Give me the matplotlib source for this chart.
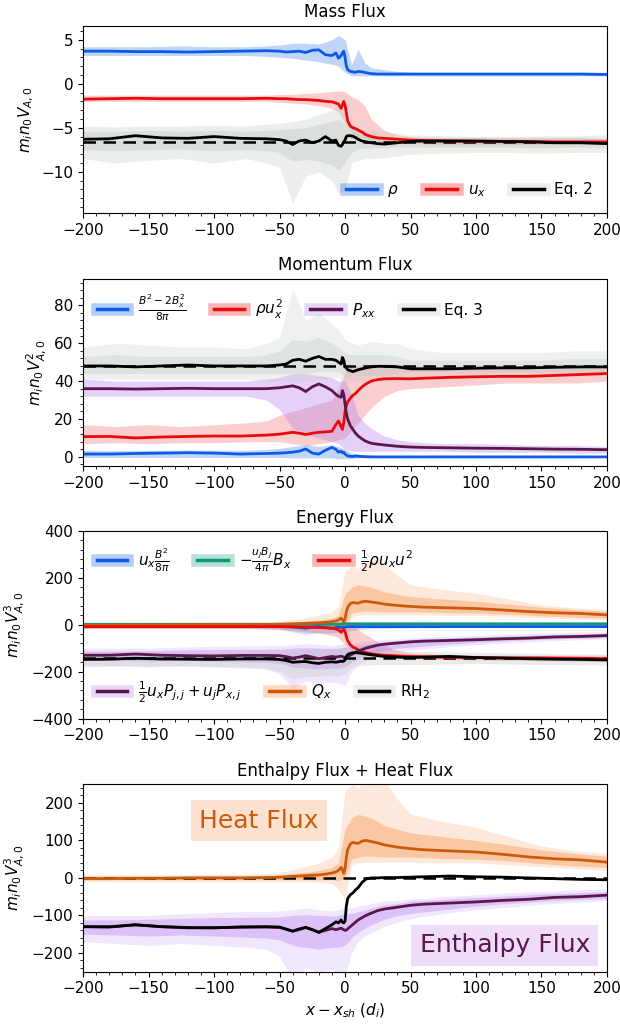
import matplotlib
matplotlib.use("Agg")
import matplotlib.pyplot as plt
from matplotlib.lines import Line2D
from matplotlib.legend_handler import HandlerTuple
from matplotlib.ticker import MultipleLocator

# ---- Datos ------------------------------------------------------------------
# grilla de las curvas medias
X = [-200, -180, -160, -140, -120, -100, -80, -60, -50, -45, -40, -35, -30, -25,
     -20, -15, -10, -7, -5, -3, -2, -1, 0, 1, 2, 4, 6, 8, 10, 13, 16, 20, 25,
     30, 40, 50, 60, 80, 100, 120, 140, 160, 180, 200]
# grilla de las bandas (envolvente del ensamble)
XB = [-200, -175, -150, -125, -100, -75, -60, -50, -40, -30, -20, -10, -5, 0,
      5, 10, 15, 20, 30, 40, 50, 75, 100, 125, 150, 175, 200]

# Mass flux
RHO = [3.7, 3.7, 3.65, 3.65, 3.6, 3.65, 3.7, 3.75, 3.7, 3.6, 3.65, 3.7, 3.55, 3.8,
       3.85, 3.3, 3.2, 3.5, 2.9, 3.2, 3.5, 3.7, 3.0, 2.0, 1.6, 1.4, 1.35, 1.3, 1.4,
       1.35, 1.25, 1.15, 1.1, 1.1, 1.1, 1.1, 1.1, 1.1, 1.1, 1.1, 1.1, 1.1, 1.1, 1.05]
UX = [-1.75, -1.7, -1.65, -1.7, -1.7, -1.7, -1.7, -1.65, -1.7, -1.7, -1.75, -1.8,
      -1.8, -1.85, -1.9, -2.0, -2.05, -2.2, -2.3, -2.8, -2.4, -2.0, -2.4, -3.3,
      -4.2, -4.8, -5.0, -5.1, -5.25, -5.5, -5.8, -6.0, -6.15, -6.2, -6.3, -6.4,
      -6.45, -6.5, -6.55, -6.55, -6.55, -6.6, -6.6, -6.6]
EQ2 = [-6.3, -6.25, -5.9, -6.15, -6.2, -6.0, -6.2, -6.25, -6.35, -6.5, -6.9, -6.5,
       -6.4, -6.7, -6.5, -6.0, -6.5, -6.4, -7.0, -7.1, -6.9, -6.6, -6.4, -6.0, -5.9,
       -5.9, -5.95, -6.1, -6.3, -6.5, -6.6, -6.7, -6.8, -6.85, -6.7, -6.55, -6.5,
       -6.5, -6.5, -6.55, -6.6, -6.7, -6.7, -6.8]
RHO_LO = [3.2, 3.2, 3.2, 3.2, 3.2, 3.2, 3.1, 3.0, 2.9, 2.7, 2.5, 2.2, 2.0, 1.3,
          0.9, 0.9, 0.9, 0.9, 0.9, 0.9, 0.9, 0.9, 0.9, 0.9, 0.9, 0.9, 0.9]
RHO_HI = [4.2, 4.2, 4.2, 4.3, 4.2, 4.2, 4.3, 4.4, 4.6, 4.6, 4.5, 5.0, 5.5, 5.0,
          2.2, 3.9, 2.4, 1.8, 1.6, 1.4, 1.3, 1.3, 1.3, 1.3, 1.3, 1.3, 1.3]
UX_LO = [-2.0, -2.0, -2.0, -2.0, -2.0, -2.0, -2.0, -2.1, -2.2, -2.3, -2.5, -2.8,
         -3.2, -4.5, -5.5, -6.0, -6.2, -6.4, -6.6, -6.7, -6.8, -6.9, -6.9, -6.9,
         -6.9, -6.9, -6.9]
UX_HI = [-1.3, -1.3, -1.3, -1.3, -1.3, -1.3, -1.3, -1.2, -1.2, -1.1, -1.0, -0.9,
         -0.8, -0.9, -1.5, -1.8, -2.5, -4.0, -5.3, -5.8, -6.0, -6.1, -6.1, -6.1,
         -6.1, -6.1, -6.2]
EQ2_LO = [-8.5, -9.0, -8.7, -8.5, -9.0, -8.5, -9.0, -9.5, -13.5, -10.5, -10.0,
          -11.0, -12.5, -12.0, -9.0, -8.7, -8.5, -8.5, -8.4, -8.2, -8.0, -7.9,
          -7.8, -7.8, -7.9, -7.8, -7.8]
EQ2_HI = [-4.8, -4.9, -4.8, -4.8, -4.7, -4.8, -4.6, -4.5, -4.3, -4.0, -3.5, -3.0,
          -2.2, -3.5, -4.5, -5.0, -5.2, -5.3, -5.5, -5.6, -5.8, -5.9, -6.0, -6.0,
          -5.9, -5.9, -5.8]
EQ2_CORE_LO = [-7.5, -7.6, -7.5, -7.4, -7.6, -7.5, -7.6, -7.8, -8.8, -8.6, -8.8,
               -9.2, -9.8, -9.0, -7.8, -7.4, -7.3, -7.3, -7.3, -7.2, -7.2, -7.2,
               -7.2, -7.2, -7.3, -7.2, -7.3]
EQ2_CORE_HI = [-5.4, -5.4, -5.3, -5.4, -5.3, -5.4, -5.3, -5.2, -5.1, -5.0, -4.6,
               -4.3, -4.0, -4.6, -5.3, -5.6, -5.8, -5.9, -6.0, -6.1, -6.1, -6.2,
               -6.2, -6.2, -6.2, -6.2, -6.2]
RH1_MASS = -6.6

# Momentum flux
BMAG = [1.5, 1.5, 1.8, 2.0, 2.2, 2.0, 1.5, 1.8, 2.0, 2.2, 2.5, 3.0, 4.2, 2.0, 1.5,
        3.5, 5.0, 4.0, 2.5, 3.0, 2.2, 2.5, 1.5, 1.0, 0.5, 0.3, 0.2, 0.5, 0.3, 0.2,
        0.1, 0.0, 0.0, 0.0, 0.0, 0.0, 0.0, 0.0, 0.0, 0.0, 0.0, 0.0, 0.0, 0.0]
RUX2 = [10.7, 10.8, 10.0, 10.5, 10.8, 11.0, 11.0, 11.5, 12.0, 12.5, 13.0, 12.5,
        11.8, 12.5, 13.0, 13.2, 13.5, 17.0, 19.0, 16.0, 14.5, 18.0, 24.0, 27.0,
        29.0, 31.0, 32.5, 33.5, 35.0, 37.0, 38.5, 40.0, 40.8, 41.2, 41.3, 41.2,
        41.5, 42.0, 42.3, 42.5, 42.5, 43.0, 43.5, 44.0]
PXX = [36, 36, 35.8, 36, 36.2, 36, 36, 36, 36.5, 37, 37.5, 36.5, 34.5, 37, 38.5,
       37, 35, 33, 32, 31.5, 35, 33, 28, 23, 20, 16.5, 14.5, 12.5, 11, 9.5, 8.2,
       7.2, 6.7, 6.3, 5.6, 5.2, 5.0, 4.8, 4.6, 4.5, 4.3, 4.1, 4.0, 3.8]
EQ3 = [48, 48, 47.5, 48, 48.5, 48, 48, 48, 48.5, 49, 51, 51.5, 50.5, 52, 53, 51.5,
       51.5, 51, 50, 49, 52.5, 51, 47.5, 47, 46, 45.5, 45, 45.5, 46, 46.5, 47,
       47.5, 47.8, 47.8, 47.5, 46.5, 46.5, 46.5, 46.8, 47, 47, 47.3, 47.5, 47.5]
BMAG_LO = [-0.3, -0.3, -0.3, -0.3, -0.3, -0.3, -0.3, -0.3, -0.5, -0.5, -0.5, -0.5,
           -1.0, -1.0, -0.8, -0.5, -0.4, -0.3, -0.3, -0.3, -0.3, -0.3, -0.3, -0.3,
           -0.3, -0.3, -0.3]
BMAG_HI = [3.5, 3.3, 3.5, 3.6, 3.6, 3.5, 4.0, 4.5, 5.5, 6.5, 5.5, 6.5, 5.5, 4.0,
           2.0, 1.5, 1.0, 0.8, 0.5, 0.4, 0.3, 0.3, 0.3, 0.3, 0.3, 0.3, 0.3]
RUX2_LO = [7, 7.5, 7, 7.5, 7.5, 8, 8, 8, 7, 6, 7, 8, 9, 10, 14, 18, 22, 26, 32,
           35, 36, 37, 38, 39, 39, 39, 40]
RUX2_HI = [17, 16, 17, 16, 17, 18, 19, 22, 24, 26, 28, 30, 36, 45, 48, 48, 48, 49,
           49, 49, 48, 47, 47, 47, 47, 48, 48]
PXX_LO = [32, 32, 32, 32, 32, 32, 30, 25, 15, 12, 10, 8, 7, 4, 3, 3, 3, 3, 3, 3,
          3, 3, 2.5, 2.5, 2.5, 2, 2]
PXX_HI = [41, 40, 40, 40, 40, 40, 41, 42, 44, 44, 43, 42, 40, 40, 33, 22, 18, 15,
          11, 9, 8, 7, 7, 6.5, 6, 6, 5.5]
EQ3_LO = [41, 41, 41, 41, 41, 41, 40, 40, 40, 40, 41, 42, 42, 38, 40, 40, 40, 40,
          40, 41, 42, 43, 43, 43, 43, 43, 43]
EQ3_HI = [58, 60, 59, 58, 58, 57, 60, 63, 89, 72, 76, 70, 67, 62, 60, 59, 60, 61,
          60, 60, 57, 55, 55, 55, 55, 56, 56]
EQ3_CORE_LO = [44, 44, 44, 44, 44, 44, 44, 44, 44, 44, 45, 45, 45, 42, 43, 43, 43,
               43, 43, 44, 45, 45, 45, 45, 45, 45, 45]
EQ3_CORE_HI = [53, 54, 53, 53, 53, 53, 54, 56, 62, 61, 63, 60, 58, 55, 54, 54, 54,
               54, 54, 53, 51, 51, 51, 51, 51, 52, 52]
RH1_MOM = 48

# Energy flux
UXB2 = [-5, -5, -5, -6, -6, -6, -5, -5, -6, -7, -10, -12, -15, -10, -8, -12, -15,
        -12, -10, -12, -10, -12, -10, -9, -8, -8, -8, -8, -8, -8, -8, -8, -8, -8,
        -8, -8, -8, -8, -8, -8, -8, -8, -8, -8]
UJBJ = [2, 2, 2, 2, 2, 2, 2, 2, 2, 2, 2, 2, 2, 2, 2, 2, 2, 2, 2, 3, 3, 3, 4, 4, 4,
        4, 4, 4, 4, 4, 4, 4, 4, 4, 4, 4, 4, 4, 4, 4, 4, 4, 4, 4]
KIN = [-8, -8, -8, -8, -8, -8, -8, -8, -8, -9, -9, -10, -10, -11, -12, -13, -15,
       -18, -22, -32, -25, -20, -30, -50, -68, -85, -95, -100, -107, -114, -119,
       -124, -128, -130, -133, -135, -137, -139, -140, -141, -141, -142, -143, -145]
QX = [-2, -2, -1, -1, 0, 0, 0, 1, 2, 3, 4, 5, 6, 7, 8, 10, 13, 16, 20, 28, 22,
      12, 25, 55, 75, 90, 95, 93, 92, 98, 100, 97, 93, 88, 82, 78, 75, 72, 69,
      63, 56, 51, 48, 42]
ENTH = [-130, -130, -125, -130, -132, -133, -131, -131, -132, -136, -142, -138,
        -132, -138, -145, -140, -135, -138, -136, -134, -136, -138, -140, -139,
        -136, -130, -124, -118, -112, -106, -100, -94, -87, -83, -78, -73, -70,
        -67, -64, -60, -57, -52, -50, -46]
RH2 = [-148, -147, -143, -146, -147, -148, -146, -146, -148, -153, -160, -158,
       -157, -162, -165, -160, -158, -160, -158, -155, -157, -155, -150, -135,
       -127, -122, -120, -119, -120, -122, -125, -128, -132, -135, -138, -140,
       -138, -135, -140, -142, -145, -147, -148, -150]
UXB2_LO = [-15, -15, -15, -15, -15, -15, -18, -20, -30, -40, -35, -35, -30, -30,
           -25, -20, -18, -16, -15, -14, -13, -12, -12, -12, -12, -12, -12]
UXB2_HI = [3, 3, 3, 3, 3, 3, 3, 4, 5, 5, 6, 6, 8, 10, 5, 2, 0, -1, -2, -3, -3, -3,
           -3, -3, -3, -3, -3]
UJBJ_LO = [-4, -4, -4, -4, -4, -4, -4, -4, -4, -4, -4, -4, -4, -5, -2, 0, 0, 0, 0,
           0, 0, 0, 0, 0, 0, 0, 0]
UJBJ_HI = [6, 6, 6, 6, 6, 6, 6, 6, 6, 6, 6, 6, 8, 12, 10, 8, 8, 8, 8, 8, 8, 8, 8,
           8, 8, 8, 8]
KIN_LO = [-16, -16, -16, -16, -16, -16, -18, -20, -25, -30, -35, -45, -55, -85,
          -110, -125, -130, -135, -140, -142, -145, -148, -150, -152, -153, -155,
          -158]
KIN_HI = [-2, -2, -2, -2, -2, -1, 0, 0, 2, 3, 5, 8, 10, 10, 0, -20, -40, -55, -90,
          -110, -120, -127, -130, -130, -130, -130, -130]
QX_LO = [-10, -10, -10, -10, -10, -10, -10, -10, -10, -10, -12, -15, -30, -60, 35,
         40, 42, 42, 42, 42, 42, 40, 40, 35, 30, 25, 20]
QX_HI = [8, 8, 8, 8, 10, 10, 12, 15, 22, 30, 40, 55, 80, 230, 250, 240, 260, 290,
         260, 210, 170, 150, 135, 110, 85, 72, 65]
QX_CORE_LO = [-5, -5, -5, -5, -5, -5, -5, -5, -5, -5, -5, -5, -8, 0, 50, 55, 58,
              58, 55, 55, 55, 52, 50, 45, 38, 32, 28]
QX_CORE_HI = [5, 5, 5, 5, 5, 5, 6, 8, 12, 15, 20, 28, 40, 130, 160, 170, 165, 160,
              140, 130, 120, 110, 100, 88, 75, 65, 58]
ENTH_LO = [-170, -175, -180, -175, -180, -185, -190, -210, -270, -240, -250, -245,
           -250, -260, -200, -170, -155, -145, -130, -118, -108, -95, -85, -78,
           -70, -65, -60]
ENTH_HI = [-100, -100, -100, -95, -92, -90, -90, -88, -85, -80, -85, -88, -85, -80,
           -80, -75, -72, -68, -62, -60, -56, -50, -45, -40, -36, -32, -30]
ENTH_CORE_LO = [-150, -152, -155, -152, -155, -158, -160, -165, -180, -185, -190,
                -185, -185, -180, -160, -145, -135, -125, -110, -100, -95, -85,
                -75, -68, -62, -58, -55]
ENTH_CORE_HI = [-112, -112, -110, -108, -106, -105, -105, -104, -100, -98, -100,
                -102, -100, -95, -95, -90, -86, -80, -72, -68, -62, -57, -52, -48,
                -43, -40, -36]
RH2_LO = [-180, -175, -175, -175, -178, -180, -185, -200, -230, -220, -220, -215,
          -220, -210, -180, -175, -172, -170, -170, -170, -170, -168, -165, -168,
          -170, -170, -172]
RH2_HI = [-120, -120, -120, -120, -120, -118, -117, -115, -110, -105, -105, -100,
          -100, -95, -100, -105, -108, -110, -112, -113, -115, -115, -118, -120,
          -122, -125, -125]
RH1_EN = -140

# Enthalpy + heat flux (suma)
TOTAL = [-130, -131, -125, -130, -133, -133, -131, -130, -131, -137, -142, -136,
         -132, -138, -145, -135, -125, -117, -120, -112, -118, -120, -115, -75,
         -55, -45, -40, -32, -26, -12, -3, 0, 0, 1, 1, 2, 3, 5, 3, 2, 0, -2, -4, -5]
RH1_TOT = 0

# ---- Estilo ------------------------------------------------------------------
BLUE = "#0b5be6"
RED = "#ea0a0a"
PURPLE = "#5a1848"
PURPLE_BAND = "#b27bf0"
ORANGE = "#cc5a0c"
ORANGE_BAND = "#f98a3a"
TEAL = "#0e9878"
GREY_BAND = "#c3c9c3"
HMAP = {tuple: HandlerTuple(ndivide=1)}
LEG_KW = dict(handler_map=HMAP, frameon=False, fontsize=11, handlelength=2.0,
              handletextpad=0.7, columnspacing=1.8)

plt.rcParams["font.size"] = 11


def _band(ax, lo, hi, color, alpha):
    ax.fill_between(XB, lo, hi, color=color, alpha=alpha, lw=0)


def _handle(line_color, band_color):
    return (Line2D([], [], color=band_color, alpha=0.3, lw=9),
            Line2D([], [], color=line_color, lw=2.5))


def _format(ax, ylim, major, minor, ylabel, title):
    ax.set_xlim(-200, 200)
    ax.set_ylim(*ylim)
    ax.xaxis.set_major_locator(MultipleLocator(50))
    ax.xaxis.set_minor_locator(MultipleLocator(10))
    ax.yaxis.set_major_locator(MultipleLocator(major))
    ax.yaxis.set_minor_locator(MultipleLocator(minor))
    ax.tick_params(labelsize=11)
    ax.set_ylabel(ylabel, fontsize=11)
    ax.set_title(title, fontsize=12)


fig = plt.figure(figsize=(6.2, 10.25), dpi=100)
ax1 = fig.add_axes([0.134, 0.792, 0.845, 0.183])
ax2 = fig.add_axes([0.134, 0.545, 0.845, 0.183])
ax3 = fig.add_axes([0.134, 0.299, 0.845, 0.183])
ax4 = fig.add_axes([0.134, 0.052, 0.845, 0.183])

# ---- Mass flux
_band(ax1, RHO_LO, RHO_HI, BLUE, 0.25)
_band(ax1, UX_LO, UX_HI, RED, 0.2)
_band(ax1, EQ2_LO, EQ2_HI, GREY_BAND, 0.3)
_band(ax1, EQ2_CORE_LO, EQ2_CORE_HI, GREY_BAND, 0.4)
ax1.axhline(RH1_MASS, color="k", lw=1.8, dashes=(5, 3))
ax1.plot(X, RHO, color=BLUE, lw=2)
ax1.plot(X, UX, color=RED, lw=2)
ax1.plot(X, EQ2, color="k", lw=2)
ax1.legend([_handle(BLUE, BLUE), _handle(RED, RED), _handle("k", GREY_BAND)],
           [r"$\rho$", r"$u_x$", "Eq. 2"], loc="lower right", ncol=3, **LEG_KW)
_format(ax1, (-14.7, 6.6), 5, 1, r"$m_i n_0 V_{A,0}$", "Mass Flux")

# ---- Momentum flux
_band(ax2, BMAG_LO, BMAG_HI, BLUE, 0.25)
_band(ax2, RUX2_LO, RUX2_HI, RED, 0.2)
_band(ax2, PXX_LO, PXX_HI, PURPLE_BAND, 0.35)
_band(ax2, EQ3_LO, EQ3_HI, GREY_BAND, 0.25)
_band(ax2, EQ3_CORE_LO, EQ3_CORE_HI, GREY_BAND, 0.35)
ax2.axhline(RH1_MOM, color="k", lw=1.8, dashes=(5, 3))
ax2.plot(X, BMAG, color=BLUE, lw=2)
ax2.plot(X, RUX2, color=RED, lw=2)
ax2.plot(X, PXX, color=PURPLE, lw=2)
ax2.plot(X, EQ3, color="k", lw=2)
ax2.legend([_handle(BLUE, BLUE), _handle(RED, RED), _handle(PURPLE, PURPLE_BAND),
            _handle("k", GREY_BAND)],
           [r"$\frac{B^2-2B_x^2}{8\pi}$", r"$\rho u_x^2$", r"$P_{xx}$", "Eq. 3"],
           loc="upper left", ncol=4, **LEG_KW)
_format(ax2, (-5, 94), 20, 4, r"$m_i n_0 V_{A,0}^2$", "Momentum Flux")

# ---- Energy flux
_band(ax3, UXB2_LO, UXB2_HI, BLUE, 0.2)
_band(ax3, UJBJ_LO, UJBJ_HI, TEAL, 0.2)
_band(ax3, KIN_LO, KIN_HI, RED, 0.2)
_band(ax3, QX_LO, QX_HI, ORANGE_BAND, 0.18)
_band(ax3, QX_CORE_LO, QX_CORE_HI, ORANGE_BAND, 0.35)
_band(ax3, ENTH_LO, ENTH_HI, PURPLE_BAND, 0.18)
_band(ax3, ENTH_CORE_LO, ENTH_CORE_HI, PURPLE_BAND, 0.35)
_band(ax3, RH2_LO, RH2_HI, GREY_BAND, 0.35)
ax3.axhline(RH1_EN, color="k", lw=1.8, dashes=(5, 3))
ax3.plot(X, UJBJ, color=TEAL, lw=2)
ax3.plot(X, UXB2, color=BLUE, lw=2)
ax3.plot(X, QX, color=ORANGE, lw=2)
ax3.plot(X, KIN, color=RED, lw=2)
ax3.plot(X, ENTH, color=PURPLE, lw=2)
ax3.plot(X, RH2, color="k", lw=2)
leg_top = ax3.legend([_handle(BLUE, BLUE), _handle(TEAL, TEAL), _handle(RED, RED)],
                     [r"$u_x\frac{B^2}{8\pi}$", r"$-\frac{u_jB_j}{4\pi}B_x$",
                      r"$\frac{1}{2}\rho u_x u^2$"],
                     loc="upper left", ncol=3, **LEG_KW)
ax3.add_artist(leg_top)
ax3.legend([_handle(PURPLE, PURPLE_BAND), _handle(ORANGE, ORANGE_BAND),
            _handle("k", GREY_BAND)],
           [r"$\frac{1}{2}u_xP_{j,j}+u_jP_{x,j}$", r"$Q_x$", r"RH$_2$"],
           loc="lower left", ncol=3, **LEG_KW)
_format(ax3, (-400, 400), 200, 40, r"$m_i n_0 V_{A,0}^3$", "Energy Flux")

# ---- Enthalpy + heat flux
_band(ax4, QX_LO, QX_HI, ORANGE_BAND, 0.18)
_band(ax4, QX_CORE_LO, QX_CORE_HI, ORANGE_BAND, 0.35)
_band(ax4, ENTH_LO, ENTH_HI, PURPLE_BAND, 0.18)
_band(ax4, ENTH_CORE_LO, ENTH_CORE_HI, PURPLE_BAND, 0.35)
ax4.axhline(RH1_TOT, color="k", lw=1.8, dashes=(5, 3))
ax4.plot(X, QX, color=ORANGE, lw=2)
ax4.plot(X, ENTH, color=PURPLE, lw=2)
ax4.plot(X, TOTAL, color="k", lw=2)
ax4.text(-66, 153, "Heat Flux", color=ORANGE, fontsize=18, ha="center", va="center",
         bbox=dict(facecolor="#fde2cf", edgecolor="none", pad=6))
ax4.text(122, -180, "Enthalpy Flux", color=PURPLE, fontsize=18, ha="center",
         va="center", bbox=dict(facecolor="#efdcfb", edgecolor="none", pad=6))
_format(ax4, (-250, 250), 100, 20, r"$m_i n_0 V_{A,0}^3$", "Enthalpy Flux + Heat Flux")
ax4.set_xlabel(r"$x - x_{sh}\ (d_i)$", fontsize=11)

fig.savefig("out.png", dpi=100)
